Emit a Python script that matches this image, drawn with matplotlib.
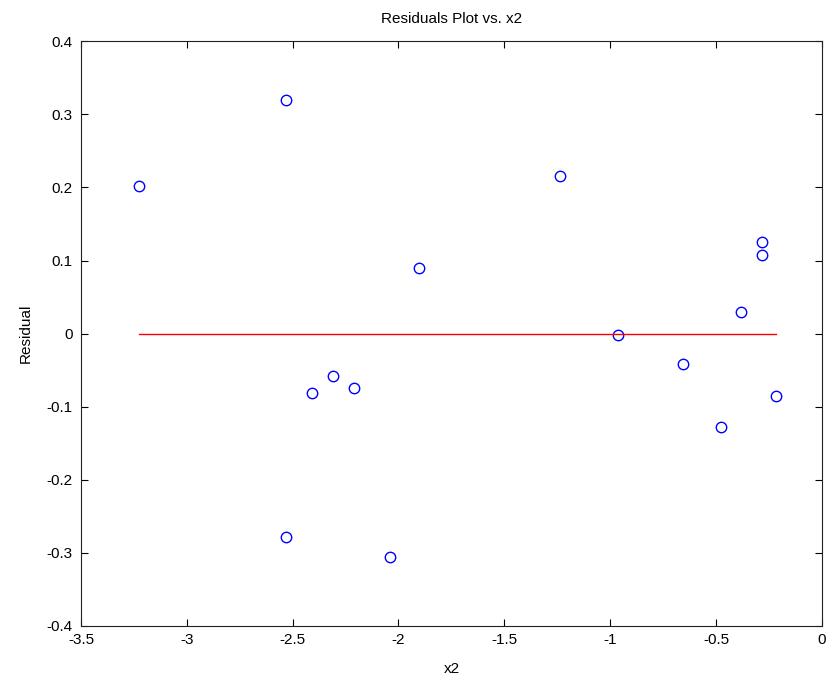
import matplotlib
matplotlib.use('Agg')
import matplotlib.pyplot as plt

# Residuals
x2 = [-3.226, -2.533, -2.533, -2.410, -2.307, -2.208, -2.038, -1.901,
      -1.236, -0.962, -0.656, -0.476, -0.382, -0.283, -0.283, -0.217]
residual = [0.202, 0.320, -0.278, -0.081, -0.058, -0.075, -0.305, 0.090,
            0.215, -0.002, -0.041, -0.128, 0.030, 0.125, 0.107, -0.086]

plt.rcParams['font.family'] = ['Liberation Sans', 'DejaVu Sans']

fig = plt.figure(figsize=(8.26, 6.76), dpi=100)
ax = fig.add_axes([0.098, 0.074, 0.897, 0.865])

ax.plot(x2, residual, 'o', mfc='none', mec='#0000ff', ms=7.5, mew=1.0)
ax.plot([min(x2), max(x2)], [0, 0], color='#ff0000', lw=1.0)

ax.set_xlim(-3.5, 0)
ax.set_ylim(-0.4, 0.4)
ax.set_xticks([-3.5, -3, -2.5, -2, -1.5, -1, -0.5, 0])
ax.set_xticklabels(['-3.5', '-3', '-2.5', '-2', '-1.5', '-1', '-0.5', '0'])
ax.set_yticks([-0.4, -0.3, -0.2, -0.1, 0, 0.1, 0.2, 0.3, 0.4])
ax.set_yticklabels(['-0.4', '-0.3', '-0.2', '-0.1', '0', '0.1', '0.2', '0.3', '0.4'])
ax.tick_params(direction='in', top=True, right=True, length=5, width=0.8,
               labelsize=11)
ax.tick_params(axis='y', pad=6)
ax.tick_params(axis='x', pad=5)
for s in ax.spines.values():
    s.set_linewidth(0.8)
    s.set_color('#222222')

ax.set_xlabel('x2', fontsize=11, labelpad=11)
ax.set_ylabel('Residual', fontsize=11, labelpad=10)
ax.set_title('Residuals Plot vs. x2', fontsize=11, pad=13)

fig.savefig('out.png', dpi=100)
